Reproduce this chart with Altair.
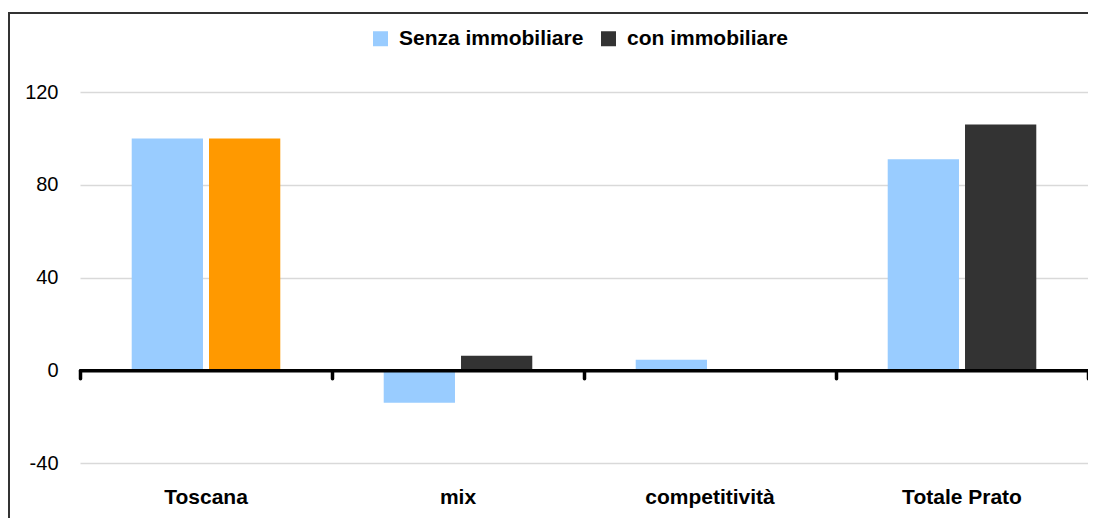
import altair as alt
import pandas as pd

categories = ["Toscana", "mix", "competitività", "Totale Prato"]
series = ["Senza immobiliare", "con immobiliare"]
senza = [100, -14, 4.5, 91]
con = [100, 6.2, 0, 106]
y_ticks = [-40, 0, 40, 80, 120]

rows = []
for i, c in enumerate(categories):
    rows.append({"Categoria": c, "Serie": series[0], "Valore": senza[i], "Colore": series[0]})
    rows.append({"Categoria": c, "Serie": series[1], "Valore": con[i],
                 "Colore": "evidenza" if c == "Toscana" else series[1]})
df = pd.DataFrame(rows)

W, H = 1008, 371
ymin, ymax = -40, 120
zero_offset = -H * (0 - ymin) / (ymax - ymin)

FONT = "Liberation Sans"

xscale = alt.Scale(paddingInner=0, paddingOuter=0)
yscale = alt.Scale(domain=[ymin, ymax], nice=False, zero=False)
yaxis = alt.Axis(values=y_ticks, ticks=False, domain=False, grid=True,
                 gridColor="#d9d9d9", gridWidth=1.5,
                 labelExpr="toString(datum.value)",
                 labelFont=FONT, labelFontSize=20, labelColor="#000000",
                 labelPadding=22)

bars = alt.Chart(df).mark_bar().encode(
    x=alt.X("Categoria:N", sort=categories, scale=xscale, title=None,
            axis=alt.Axis(orient="bottom", ticks=False, domain=False, grid=False,
                          labelAngle=0, labelFont=FONT, labelFontSize=21,
                          labelFontWeight="bold", labelColor="#000000",
                          labelPadding=23, labelBaseline="top")),
    xOffset=alt.XOffset("Serie:N", sort=series,
                        scale=alt.Scale(paddingInner=0.078, paddingOuter=0.669)),
    y=alt.Y("Valore:Q", scale=yscale, title=None, axis=yaxis),
    color=alt.Color("Colore:N",
                    scale=alt.Scale(domain=[series[0], series[1], "evidenza"],
                                    range=["#99CCFF", "#333333", "#FF9900"]),
                    legend=alt.Legend(values=series, title=None, orient="none",
                                      direction="horizontal", legendX=290, legendY=-64,
                                      symbolType="square", symbolSize=225,
                                      symbolStrokeWidth=0, symbolOpacity=1,
                                      labelFont=FONT, labelFontSize=21,
                                      labelFontWeight="bold", labelColor="#000000",
                                      labelLimit=400,
                                      labelOffset=8, columnPadding=14)),
)

zero_axis = alt.Chart(df).mark_bar(opacity=0).encode(
    x=alt.X("Categoria:N", sort=categories, scale=xscale, title=None,
            axis=alt.Axis(orient="bottom", offset=zero_offset, labels=False, grid=False,
                          domain=True, domainColor="#000000", domainWidth=3.5,
                          domainCap="round",
                          ticks=True, tickBand="extent", tickColor="#000000",
                          tickWidth=3.5, tickSize=8, tickCap="round", zindex=1)),
    y=alt.Y("Valore:Q", scale=yscale, title=None, axis=yaxis),
)

frame = alt.Chart(pd.DataFrame({"k": [0]})).mark_rect(
    fill=None, stroke="#333333", strokeWidth=2, clip=False
).encode(
    x=alt.value(-71), x2=alt.value(W + 40), y=alt.value(-79), y2=alt.value(H + 80)
)

chart = alt.layer(bars, zero_axis, frame).resolve_axis(x="independent").properties(
    width=W, height=H,
    background="#ffffff",
    autosize=alt.AutoSizeParams(type="none"),
    padding={"left": 72, "top": 84, "right": 0, "bottom": 55},
).configure_view(stroke=None)

chart.save("out.html", embed_options={"renderer": "svg", "actions": False})
